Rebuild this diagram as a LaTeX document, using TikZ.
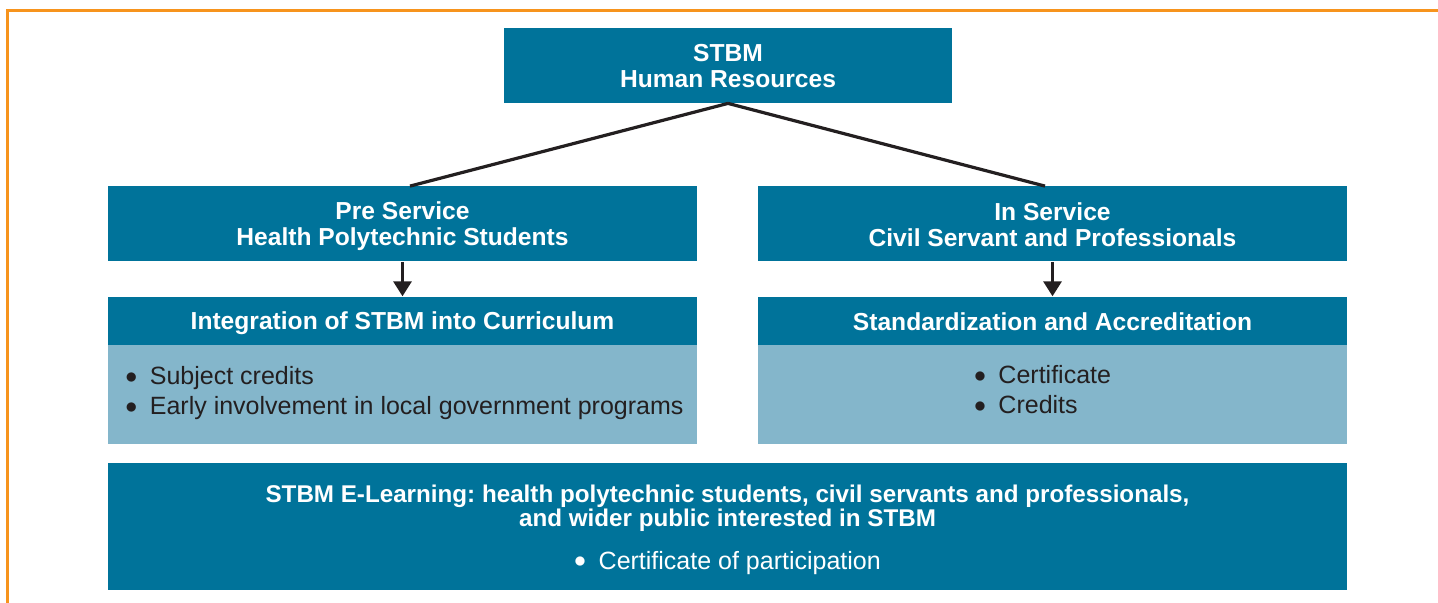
\documentclass[tikz,border=0pt]{standalone}
\usepackage{fontspec}
\setmainfont{Liberation Sans}
\usetikzlibrary{calc,arrows.meta}
\definecolor{stbmblue}{HTML}{00739A}
\definecolor{stbmlight}{HTML}{84B6CB}
\definecolor{stbmorange}{HTML}{F7941D}
\definecolor{stbmink}{HTML}{231F20}
\def\bulletitem{\raisebox{0.8pt}{$\bullet$}\hspace{0.5em}}
\def\boxstrut{\rule[-1.6pt]{0pt}{12.4pt}}

\tikzset{
	darkbox/.style={fill=stbmblue, text=white, align=center, inner sep=0pt,
		font=\bfseries\fontsize{12.3}{13}\selectfont},
	lightbox/.style={fill=stbmlight, inner sep=0pt},
	listtext/.style={text=stbmink, align=left, inner sep=0pt,
		font=\fontsize{12.5}{15}\selectfont},
	link/.style={draw=stbmink, line width=1.6pt},
	down/.style={link, -{Triangle[length=7.5pt,width=9pt]}},
}

\begin{document}
\frenchspacing
\begin{tikzpicture}[x=0.5pt, y=-0.5pt]
		%%%%% START %%%%%
		\useasboundingbox (0, 0) rectangle (1438, 603);
		
		% orange frame, open to the right and bottom
		\draw[stbmorange, line width=1.7pt] (7.3, 603) -- (7.3, 10.7) -- (1438, 10.7);
		
		\node[darkbox, minimum width=224pt, minimum height=37.5pt] (hr) at (728, 65.5) {STBM\boxstrut\\Human Resources\boxstrut};
		
		\node[darkbox, minimum width=294.5pt, minimum height=37.5pt] (pre) at (402.5, 224) {Pre Service\boxstrut\\Health Polytechnic Students\boxstrut};
		\node[darkbox, minimum width=294.5pt, minimum height=37.5pt] (insrv) at (1052.5, 224) {In Service\boxstrut\\Civil Servant and Professionals\boxstrut};
		
		\node[darkbox, minimum width=294.5pt, minimum height=24.3pt] (integ) at (402.5, 321) {Integration of STBM into Curriculum\boxstrut};
		\node[lightbox, minimum width=294.5pt, minimum height=49pt] (integbody) at (402.5, 394.5) {};
		\node[listtext, anchor=west] (integlist) at (125, 393.5) {\bulletitem Subject credits\\\bulletitem Early involvement in local government programs};
		
		\node[darkbox, minimum width=294.5pt, minimum height=24.3pt] (accr) at (1052.5, 321) {Standardization and Accreditation\boxstrut};
		\node[lightbox, minimum width=294.5pt, minimum height=49pt] (accrbody) at (1052.5, 394.5) {};
		\node[listtext] (accrlist) at (1042.5, 390) {\bulletitem Certificate\\\bulletitem Credits};
		
		\node[darkbox, minimum width=619.5pt, minimum height=63.5pt] (elearn) at (727.5, 526.5) {};
		\node[darkbox, font=\bfseries\fontsize{12.1}{12}\selectfont] (elearntitle) at (727.5, 508) {STBM E-Learning: health polytechnic students, civil servants and professionals,\\and wider public interested in STBM};
		\node[listtext, text=white] (elearnlist) at (727.5, 563) {\bulletitem Certificate of participation};
		
		\draw[link] (hr.south) -- ($(pre.north)+(7.5, 0)$);
		\draw[link] (hr.south) -- ($(insrv.north)+(-7.5, 0)$);
		\draw[down] (pre.south) -- (integ.north);
		\draw[down] (insrv.south) -- (accr.north);
		%%%%% END %%%%%
\end{tikzpicture}
\end{document}
